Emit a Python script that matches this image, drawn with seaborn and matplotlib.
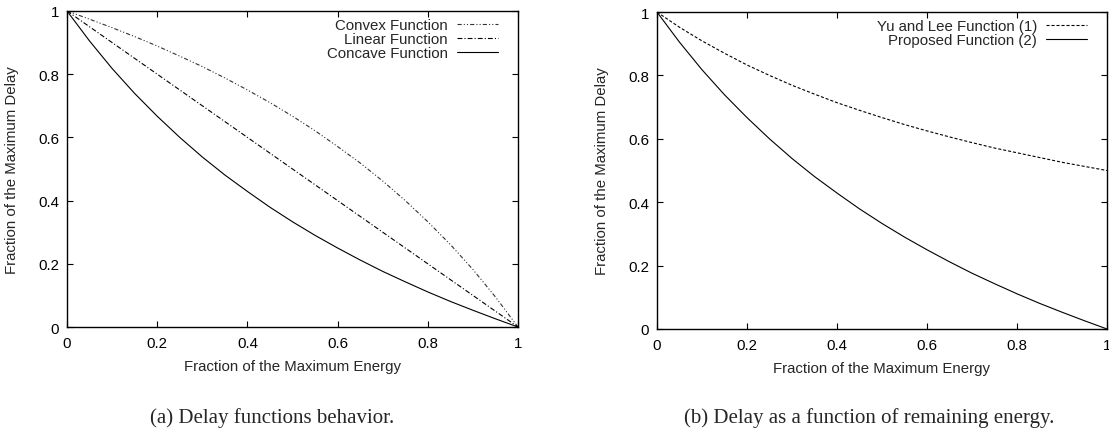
import matplotlib
matplotlib.use("Agg")
import matplotlib.pyplot as plt
import seaborn as sns

# fractions of max energy (x) and fraction of max delay (y)
energy = [0.0, 0.05, 0.1, 0.15, 0.2, 0.25, 0.3, 0.35, 0.4, 0.45, 0.5,
          0.55, 0.6, 0.65, 0.7, 0.75, 0.8, 0.85, 0.9, 0.95, 1.0]
convex = [1.0, 0.974, 0.947, 0.919, 0.889, 0.857, 0.824, 0.788, 0.750, 0.710, 0.667,
          0.621, 0.571, 0.519, 0.462, 0.400, 0.333, 0.261, 0.182, 0.095, 0.0]
linear = [1.0, 0.95, 0.90, 0.85, 0.80, 0.75, 0.70, 0.65, 0.60, 0.55, 0.50,
          0.45, 0.40, 0.35, 0.30, 0.25, 0.20, 0.15, 0.10, 0.05, 0.0]
concave = [1.0, 0.905, 0.818, 0.739, 0.667, 0.600, 0.538, 0.481, 0.429, 0.379, 0.333,
           0.290, 0.250, 0.212, 0.176, 0.143, 0.111, 0.081, 0.053, 0.026, 0.0]
yu_lee = [1.0, 0.952, 0.909, 0.870, 0.833, 0.800, 0.769, 0.741, 0.714, 0.690, 0.667,
          0.645, 0.625, 0.606, 0.588, 0.571, 0.556, 0.541, 0.526, 0.513, 0.5]
proposed = concave

ticks = [0, 0.2, 0.4, 0.6, 0.8, 1]
tick_labels = ["0", "0.2", "0.4", "0.6", "0.8", "1"]

sns.set_theme(style="ticks")
plt.rcParams["font.family"] = ["Liberation Sans", "DejaVu Sans"]
plt.rcParams["lines.scale_dashes"] = False

fig = plt.figure(figsize=(11.09, 4.39), dpi=100)
ax1 = fig.add_axes([0.0604, 0.2528, 0.4067, 0.720])
ax2 = fig.add_axes([0.5924, 0.2483, 0.4058, 0.722])

lw = 0.8
fs = 10.8
sns.lineplot(x=energy, y=convex, ax=ax1, color="#333333", linewidth=lw,
             linestyle=(0, (3, 1.5, 0.8, 1.5, 0.8, 1.5)), label="Convex Function")
sns.lineplot(x=energy, y=linear, ax=ax1, color="black", linewidth=lw,
             linestyle=(0, (3.5, 1.5, 0.8, 1.5)), label="Linear Function")
sns.lineplot(x=energy, y=concave, ax=ax1, color="black", linewidth=lw,
             linestyle="-", label="Concave Function")

sns.lineplot(x=energy, y=yu_lee, ax=ax2, color="black", linewidth=lw,
             linestyle=(0, (2.2, 1.4)), label="Yu and Lee Function (1)")
sns.lineplot(x=energy, y=proposed, ax=ax2, color="black", linewidth=lw,
             linestyle="-", label="Proposed Function (2)")

for ax in (ax1, ax2):
    ax.set_xlim(0, 1)
    ax.set_ylim(0, 1)
    ax.set_xticks(ticks)
    ax.set_xticklabels(tick_labels)
    ax.set_yticks(ticks)
    ax.set_yticklabels(tick_labels)
    ax.tick_params(direction="in", length=4, width=0.8, top=True, right=True,
                   labelsize=fs, colors="black")
    ax.tick_params(axis="x", pad=6.5)
    ax.tick_params(axis="y", pad=5.5)
    for s in ax.spines.values():
        s.set_linewidth(1.0)
        s.set_color("black")
    ax.set_xlabel("Fraction of the Maximum Energy", fontsize=fs)
    ax.set_ylabel("Fraction of the Maximum Delay", fontsize=fs)
    ax.xaxis.set_label_coords(0.5, -0.10)
    ax.yaxis.set_label_coords(-0.106, 0.5)
    ax.legend(loc="upper right", bbox_to_anchor=(0.956, 0.978), frameon=False,
              markerfirst=False, fontsize=fs, handlelength=2.75,
              handletextpad=0.6, labelspacing=0.0, borderpad=0, borderaxespad=0)

fig.text(272 / 1109, 1 - 418 / 439, "(a) Delay functions behavior.",
         ha="center", va="center", fontsize=15, family="Liberation Serif")
fig.text(869 / 1109, 1 - 418 / 439, "(b) Delay as a function of remaining energy.",
         ha="center", va="center", fontsize=15, family="Liberation Serif")

fig.savefig("out.png", dpi=100)
